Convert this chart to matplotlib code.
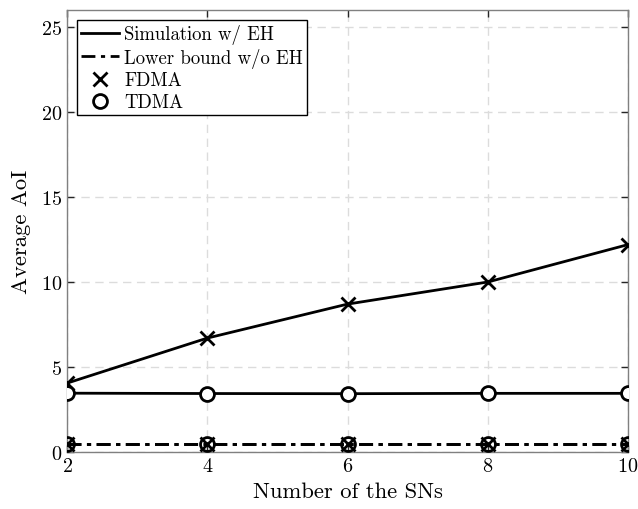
import numpy as np
import matplotlib.pyplot as plt
from matplotlib.lines import Line2D

plt.rcParams['font.family'] = 'serif'
plt.rcParams['font.serif'] = ['cmr10']
plt.rcParams['mathtext.fontset'] = 'cm'
plt.rcParams['axes.formatter.use_mathtext'] = True

num_sns = [2, 4, 6, 8, 10]
fdma_sim = [4.05, 6.7, 8.7, 10.0, 12.2]
tdma_sim = [3.46, 3.44, 3.43, 3.45, 3.45]
fdma_lb = [0.47, 0.47, 0.47, 0.47, 0.47]
tdma_lb = [0.47, 0.47, 0.47, 0.47, 0.47]

fig = plt.figure(figsize=(6.38, 5.10), dpi=100)
ax = fig.add_axes([67/638, 1-453/510, 561/638, 442/510])

dashdot = (0, (5, 2, 1.5, 2))
mk = dict(markersize=10, markeredgewidth=2, color='black', linewidth=2)
ax.plot(num_sns, fdma_sim, '-', marker='x', **mk, zorder=3)
ax.plot(num_sns, tdma_sim, '-', marker='o', markerfacecolor='white', **mk, zorder=3)
ax.plot(num_sns, fdma_lb, linestyle=dashdot, marker='x', **mk, zorder=3)
ax.plot(num_sns, tdma_lb, linestyle=dashdot, marker='o', markerfacecolor='none', **mk, zorder=3)

ax.set_xlim(2, 10)
ax.set_ylim(0, 26)
ax.set_xticks([2, 4, 6, 8, 10])
ax.set_yticks([0, 5, 10, 15, 20, 25])
ax.grid(True, linestyle=(0, (6, 4)), color='#dcdcdc', linewidth=1)
ax.set_axisbelow(True)
ax.tick_params(direction='in', top=True, right=True, labelsize=14.5, length=5,
               width=1, colors='#262626', labelcolor='black')
for s in ax.spines.values():
    s.set_color('#808080')
    s.set_linewidth(1)

ax.set_xlabel('Number of the SNs', fontsize=16.3, labelpad=5)
ax.set_ylabel('Average AoI', fontsize=16.3, labelpad=7)

handles = [
    Line2D([], [], color='black', linewidth=2, linestyle='-'),
    Line2D([], [], color='black', linewidth=2, linestyle=dashdot),
    Line2D([], [], color='black', linestyle='none', marker='x', markersize=10, markeredgewidth=2),
    Line2D([], [], color='black', linestyle='none', marker='o', markersize=10,
           markeredgewidth=2, markerfacecolor='white'),
]
labels = ['Simulation w/ EH', 'Lower bound w/o EH', 'FDMA', 'TDMA']
leg = ax.legend(handles, labels, loc='upper left', fontsize=13.5, fancybox=False,
                framealpha=1, edgecolor='black', handlelength=2.0, handletextpad=0.3,
                borderpad=0.2, labelspacing=0.2, borderaxespad=0.55)
leg.get_frame().set_linewidth(1)

fig.savefig('out.png', dpi=100)
